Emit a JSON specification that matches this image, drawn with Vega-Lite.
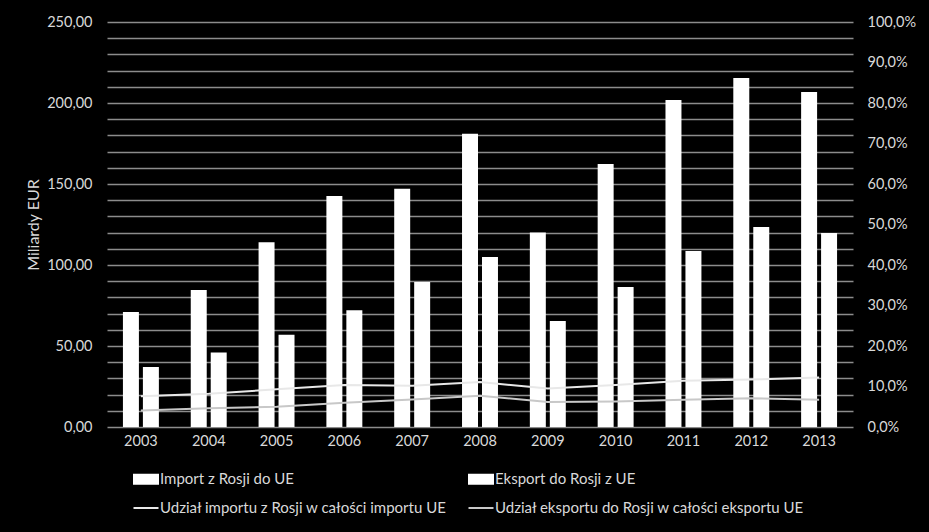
{
  "$schema": "https://vega.github.io/schema/vega-lite/v6.json",
  "width": 746,
  "height": 405,
  "autosize": {"type": "none"},
  "padding": {"left": 107, "top": 22, "right": 76, "bottom": 105},
  "background": "#000000",
  "config": {
    "locale": {"number": {"decimal": ",", "thousands": " ", "grouping": [3], "currency": ["", " €"]}},
    "view": {"stroke": null},
    "font": "Lato",
    "axis": {"labelColor": "#d9d9d9", "labelFont": "Lato", "labelFontSize": 14.5, "titleColor": "#d9d9d9", "titleFont": "Lato", "titleFontWeight": "normal", "titleFontSize": 16, "domain": false, "ticks": false}
  },
  "datasets": {
    "bars": [
      {"rok": "2003", "seria": "Import z Rosji do UE", "wartosc": 71.0},
      {"rok": "2003", "seria": "Eksport do Rosji z UE", "wartosc": 37.0},
      {"rok": "2004", "seria": "Import z Rosji do UE", "wartosc": 84.6},
      {"rok": "2004", "seria": "Eksport do Rosji z UE", "wartosc": 46.0},
      {"rok": "2005", "seria": "Import z Rosji do UE", "wartosc": 114.0},
      {"rok": "2005", "seria": "Eksport do Rosji z UE", "wartosc": 57.0},
      {"rok": "2006", "seria": "Import z Rosji do UE", "wartosc": 142.6},
      {"rok": "2006", "seria": "Eksport do Rosji z UE", "wartosc": 72.0},
      {"rok": "2007", "seria": "Import z Rosji do UE", "wartosc": 147.0},
      {"rok": "2007", "seria": "Eksport do Rosji z UE", "wartosc": 89.5},
      {"rok": "2008", "seria": "Import z Rosji do UE", "wartosc": 181.0},
      {"rok": "2008", "seria": "Eksport do Rosji z UE", "wartosc": 105.0},
      {"rok": "2009", "seria": "Import z Rosji do UE", "wartosc": 120.0},
      {"rok": "2009", "seria": "Eksport do Rosji z UE", "wartosc": 65.5},
      {"rok": "2010", "seria": "Import z Rosji do UE", "wartosc": 162.3},
      {"rok": "2010", "seria": "Eksport do Rosji z UE", "wartosc": 86.4},
      {"rok": "2011", "seria": "Import z Rosji do UE", "wartosc": 201.9},
      {"rok": "2011", "seria": "Eksport do Rosji z UE", "wartosc": 108.6},
      {"rok": "2012", "seria": "Import z Rosji do UE", "wartosc": 215.4},
      {"rok": "2012", "seria": "Eksport do Rosji z UE", "wartosc": 123.5},
      {"rok": "2013", "seria": "Import z Rosji do UE", "wartosc": 206.8},
      {"rok": "2013", "seria": "Eksport do Rosji z UE", "wartosc": 119.8}
    ],
    "lines": [
      {"rok": "2003", "seria": "Udział importu z Rosji w całości importu UE", "udzial": 0.076},
      {"rok": "2004", "seria": "Udział importu z Rosji w całości importu UE", "udzial": 0.082},
      {"rok": "2005", "seria": "Udział importu z Rosji w całości importu UE", "udzial": 0.093},
      {"rok": "2006", "seria": "Udział importu z Rosji w całości importu UE", "udzial": 0.104},
      {"rok": "2007", "seria": "Udział importu z Rosji w całości importu UE", "udzial": 0.102},
      {"rok": "2008", "seria": "Udział importu z Rosji w całości importu UE", "udzial": 0.111},
      {"rok": "2009", "seria": "Udział importu z Rosji w całości importu UE", "udzial": 0.095},
      {"rok": "2010", "seria": "Udział importu z Rosji w całości importu UE", "udzial": 0.104},
      {"rok": "2011", "seria": "Udział importu z Rosji w całości importu UE", "udzial": 0.114},
      {"rok": "2012", "seria": "Udział importu z Rosji w całości importu UE", "udzial": 0.117},
      {"rok": "2013", "seria": "Udział importu z Rosji w całości importu UE", "udzial": 0.122},
      {"rok": "2003", "seria": "Udział eksportu do Rosji w całości eksportu UE", "udzial": 0.041},
      {"rok": "2004", "seria": "Udział eksportu do Rosji w całości eksportu UE", "udzial": 0.046},
      {"rok": "2005", "seria": "Udział eksportu do Rosji w całości eksportu UE", "udzial": 0.050},
      {"rok": "2006", "seria": "Udział eksportu do Rosji w całości eksportu UE", "udzial": 0.060},
      {"rok": "2007", "seria": "Udział eksportu do Rosji w całości eksportu UE", "udzial": 0.068},
      {"rok": "2008", "seria": "Udział eksportu do Rosji w całości eksportu UE", "udzial": 0.077},
      {"rok": "2009", "seria": "Udział eksportu do Rosji w całości eksportu UE", "udzial": 0.062},
      {"rok": "2010", "seria": "Udział eksportu do Rosji w całości eksportu UE", "udzial": 0.063},
      {"rok": "2011", "seria": "Udział eksportu do Rosji w całości eksportu UE", "udzial": 0.067},
      {"rok": "2012", "seria": "Udział eksportu do Rosji w całości eksportu UE", "udzial": 0.071},
      {"rok": "2013", "seria": "Udział eksportu do Rosji w całości eksportu UE", "udzial": 0.067}
    ]
  },
  "layer": [
    {
      "data": {"name": "bars"},
      "mark": {"type": "bar"},
      "encoding": {
        "x": {"field": "rok", "type": "ordinal", "scale": {"paddingInner": 0.47, "paddingOuter": 0.235},
              "axis": {"title": null, "labelAngle": 0, "labelPadding": 7}},
        "xOffset": {"field": "seria", "type": "nominal", "sort": ["Import z Rosji do UE", "Eksport do Rosji z UE"], "scale": {"paddingInner": 0.2}},
        "y": {"field": "wartosc", "type": "quantitative", "scale": {"domain": [0, 250], "nice": false},
              "axis": {"title": "Miliardy EUR", "values": [0,10,20,30,40,50,60,70,80,90,100,110,120,130,140,150,160,170,180,190,200,210,220,230,240,250],
                       "labelExpr": "datum.value % 50 === 0 ? format(datum.value, '.2f') : ''",
                       "grid": true, "gridColor": "#8c8c8c", "gridWidth": 1.5, "labelPadding": 15, "titlePadding": 5}},
        "color": {"field": "seria", "type": "nominal",
                  "scale": {"domain": ["Import z Rosji do UE", "Eksport do Rosji z UE", "Udział importu z Rosji w całości importu UE", "Udział eksportu do Rosji w całości eksportu UE"],
                            "range": ["#ffffff", "#ffffff", "#e8e8e8", "#c8c8c8"]},
                  "legend": {"orient": "none", "legendX": 28, "legendY": 446, "direction": "horizontal", "columns": 2,
                             "columnPadding": 17, "rowPadding": 9, "title": null, "labelColor": "#d9d9d9", "labelFontSize": 15,
                             "labelFont": "Lato", "symbolSize": 400, "labelOffset": 3, "labelLimit": 500,
                             "encode": {"symbols": {"update": {
                               "shape": {"signal": "indexof(['Import z Rosji do UE','Eksport do Rosji z UE'], datum.value) >= 0 ? 'M-1.2,-0.45H1.2V0.45H-1.2Z' : 'M-1.25,0H1.25'"},
                               "fill": {"signal": "indexof(['Import z Rosji do UE','Eksport do Rosji z UE'], datum.value) >= 0 ? '#ffffff' : 'transparent'"},
                               "stroke": {"signal": "indexof(['Import z Rosji do UE','Eksport do Rosji z UE'], datum.value) >= 0 ? 'transparent' : '#d9d9d9'"},
                               "strokeWidth": {"value": 2},
                               "opacity": {"value": 1}}}}}}
      }
    },
    {
      "data": {"name": "lines"},
      "mark": {"type": "line", "strokeWidth": 2},
      "encoding": {
        "x": {"field": "rok", "type": "ordinal"},
        "y": {"field": "udzial", "type": "quantitative", "scale": {"domain": [0, 1], "nice": false},
              "axis": {"orient": "right", "format": ".1%", "values": [0,0.1,0.2,0.3,0.4,0.5,0.6,0.7,0.8,0.9,1], "grid": false, "title": null, "labelPadding": 14}},
        "color": {"field": "seria", "type": "nominal"}
      }
    }
  ],
  "resolve": {"scale": {"y": "independent"}}
}
